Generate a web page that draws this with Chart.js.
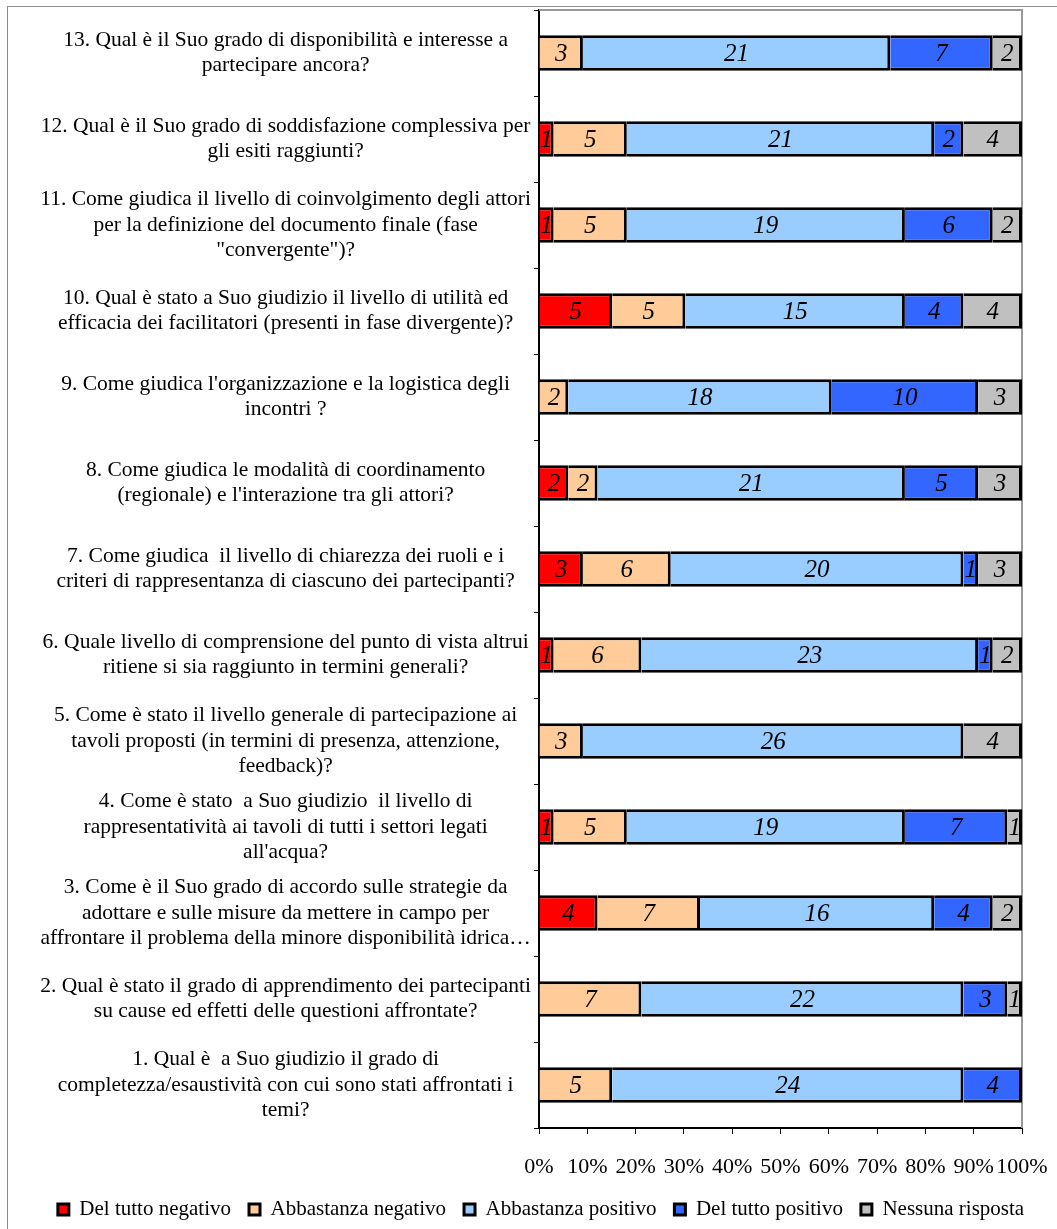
<!DOCTYPE html>
<html>
<head>
<meta charset="utf-8">
<script src="https://cdn.jsdelivr.net/npm/chart.js@4.4.0/dist/chart.umd.min.js"></script>
<style>
    html, body { margin: 0; padding: 0; background: #fff; overflow: hidden; }
    #frame { position: absolute; left: 7px; top: 6px; width: 1200px; height: 1400px; border: 1px solid #8c8c8c; }
    #wrap { position: absolute; left: 0; top: 0; width: 1057px; height: 1229px; }
</style>
</head>
<body>
<div id="frame"></div>
<div id="wrap"><canvas id="surveyChart"></canvas></div>
<script>
// Questions, top to bottom
const questions = [
    ['13. Qual è il Suo grado di disponibilità e interesse a', 'partecipare ancora?'],
    ['12. Qual è il Suo grado di soddisfazione complessiva per', 'gli esiti raggiunti?'],
    ['11. Come giudica il livello di coinvolgimento degli attori', 'per la definizione del documento finale (fase', '"convergente")?'],
    ['10. Qual è stato a Suo giudizio il livello di utilità ed', 'efficacia dei facilitatori (presenti in fase divergente)?'],
    ["9. Come giudica l'organizzazione e la logistica degli", 'incontri ?'],
    ['8. Come giudica le modalità di coordinamento', "(regionale) e l'interazione tra gli attori?"],
    ['7. Come giudica  il livello di chiarezza dei ruoli e i', 'criteri di rappresentanza di ciascuno dei partecipanti?'],
    ['6. Quale livello di comprensione del punto di vista altrui', 'ritiene si sia raggiunto in termini generali?'],
    ['5. Come è stato il livello generale di partecipazione ai', 'tavoli proposti (in termini di presenza, attenzione,', 'feedback)?'],
    ['4. Come è stato  a Suo giudizio  il livello di', 'rappresentatività ai tavoli di tutti i settori legati', "all'acqua?"],
    ['3. Come è il Suo grado di accordo sulle strategie da', 'adottare e sulle misure da mettere in campo per', 'affrontare il problema della minore disponibilità idrica…'],
    ['2. Qual è stato il grado di apprendimento dei partecipanti', 'su cause ed effetti delle questioni affrontate?'],
    ['1. Qual è  a Suo giudizio il grado di', 'completezza/esaustività con cui sono stati affrontati i', 'temi?']
];

// Answer counts per question (same order as questions)
const delTuttoNegativo    = [0, 1, 1, 5, 0, 2, 3, 1, 0, 1, 4, 0, 0];
const abbastanzaNegativo  = [3, 5, 5, 5, 2, 2, 6, 6, 3, 5, 7, 7, 5];
const abbastanzaPositivo  = [21, 21, 19, 15, 18, 21, 20, 23, 26, 19, 16, 22, 24];
const delTuttoPositivo    = [7, 2, 6, 4, 10, 5, 1, 1, 0, 7, 4, 3, 4];
const nessunaRisposta     = [2, 4, 2, 4, 3, 3, 3, 2, 4, 1, 2, 1, 0];

const seriesNames = ['Del tutto negativo', 'Abbastanza negativo', 'Abbastanza positivo', 'Del tutto positivo', 'Nessuna risposta'];
const seriesColors = ['#ff0000', '#ffcc99', '#99ccff', '#3366ff', '#c0c0c0'];
const xTicks = [0, 10, 20, 30, 40, 50, 60, 70, 80, 90, 100];

const FONT = "'Liberation Serif', 'Times New Roman', serif";

const allSeries = [delTuttoNegativo, abbastanzaNegativo, abbastanzaPositivo, delTuttoPositivo, nessunaRisposta];
const rowTotals = questions.map((_, i) => allSeries.reduce((sum, s) => sum + s[i], 0));

// Draws the count in the middle of each segment
const segmentLabels = {
    id: 'segmentLabels',
    afterDatasetsDraw(chart) {
        const ctx = chart.ctx;
        ctx.save();
        ctx.font = 'italic 25px ' + FONT;
        ctx.fillStyle = '#000';
        ctx.textAlign = 'center';
        ctx.textBaseline = 'middle';
        chart.data.datasets.forEach((ds, di) => {
            const meta = chart.getDatasetMeta(di);
            meta.data.forEach((bar, i) => {
                const count = ds.counts[i];
                if (!count) return;
                const { x, y, base } = bar.getProps(['x', 'y', 'base'], true);
                ctx.fillText(String(count), (x + base) / 2, y + 1);
            });
        });
        ctx.restore();
    }
};

// Grey top and right edges of the plot area
const plotFrame = {
    id: 'plotFrame',
    beforeDatasetsDraw(chart) {
        const { ctx, chartArea: a } = chart;
        ctx.save();
        ctx.strokeStyle = '#999';
        ctx.lineWidth = 2;
        ctx.beginPath();
        ctx.moveTo(a.left, a.top);
        ctx.lineTo(a.right, a.top);
        ctx.lineTo(a.right, a.bottom);
        ctx.stroke();
        ctx.restore();
    }
};

const ctx = document.getElementById('surveyChart').getContext('2d');
new Chart(ctx, {
    type: 'bar',
    data: {
        labels: questions,
        datasets: allSeries.map((counts, s) => ({
            label: seriesNames[s],
            counts: counts,
            data: counts.map((c, i) => c / rowTotals[i] * 100),
            backgroundColor: seriesColors[s],
            borderColor: '#000',
            borderWidth: 3,
            borderSkipped: 'start',
            barPercentage: 0.41,
            categoryPercentage: 1
        }))
    },
    options: {
        indexAxis: 'y',
        responsive: true,
        maintainAspectRatio: false,
        animation: false,
        layout: { padding: { left: 30, right: 5, top: 10, bottom: 0 } },
        plugins: {
            legend: {
                position: 'bottom',
                maxHeight: 48,
                labels: {
                    font: { family: FONT, size: 21 },
                    color: '#000',
                    boxWidth: 11,
                    boxHeight: 11,
                    padding: 18
                }
            },
            tooltip: { enabled: false }
        },
        scales: {
            x: {
                stacked: true,
                min: 0,
                max: 100,
                afterBuildTicks: scale => { scale.ticks = xTicks.map(v => ({ value: v })); },
                afterFit: scale => {
                    scale.height = 53;
                    scale.paddingRight = 35;
                    scale.paddingLeft = 0;
                },
                ticks: {
                    autoSkip: false,
                    maxRotation: 0,
                    padding: 20,
                    color: '#000',
                    font: { family: FONT, size: 22 },
                    callback: value => value + '%'
                },
                grid: { drawOnChartArea: false, tickLength: 6, color: '#000' },
                border: { color: '#000', width: 2 }
            },
            y: {
                stacked: true,
                afterFit: scale => {
                    scale.width = 509;
                    scale.paddingTop = 0;
                    scale.paddingBottom = 0;
                },
                ticks: {
                    crossAlign: 'center',
                    padding: 3,
                    color: '#000',
                    font: { family: FONT, size: 21.5, lineHeight: 1.18 }
                },
                grid: { drawOnChartArea: false, tickLength: 5, color: '#000', offset: true },
                border: { color: '#000', width: 2 }
            }
        }
    },
    plugins: [segmentLabels, plotFrame]
});
</script>
</body>
</html>
